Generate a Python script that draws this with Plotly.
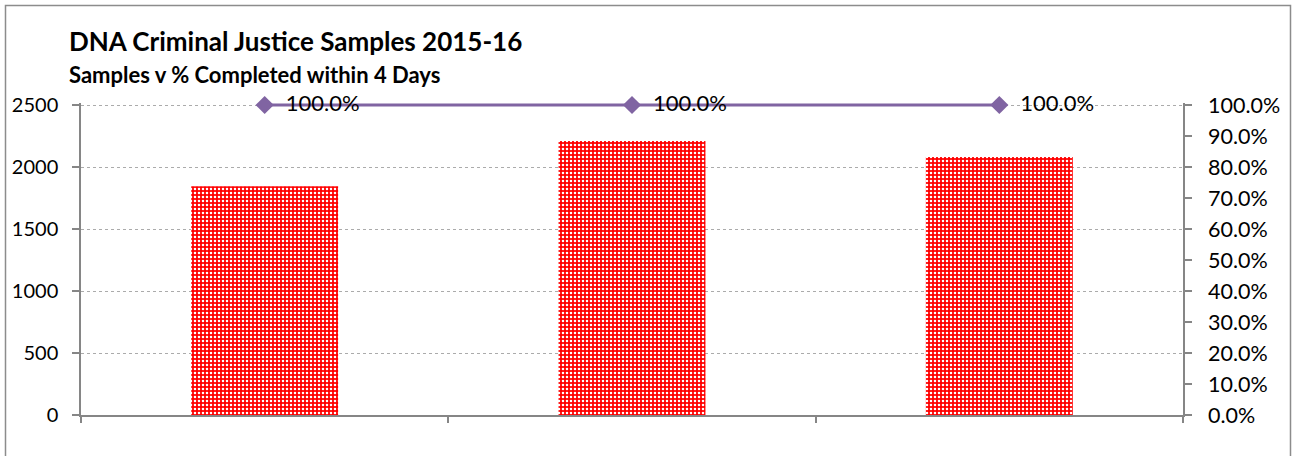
import plotly.graph_objects as go

categories = ["Period 1", "Period 2", "Period 3"]
samples = [1845, 2210, 2080]
pct_within_4_days = [1.0, 1.0, 1.0]
pct_labels = ["100.0%", "100.0%", "100.0%"]

title_text = "DNA Criminal Justice Samples 2015-16"
subtitle_text = "Samples v % Completed within 4 Days"

FONT = "Lato"
AXIS_COL = "#868686"

fig = go.Figure()
fig.add_trace(go.Bar(
    x=categories, y=samples, width=0.4,
    marker=dict(
        color="#ff0000",
        line=dict(width=0),
        pattern=dict(shape=".", fgcolor="#ffffff", bgcolor="#ff0000",
                     size=4, solidity=0.32, fillmode="replace"),
    ),
    showlegend=False,
))
fig.add_trace(go.Scatter(
    x=categories, y=pct_within_4_days, yaxis="y2",
    mode="lines+markers+text",
    line=dict(color="#8064A2", width=3),
    marker=dict(symbol="diamond", size=14, color="#8064A2"),
    text=["\u00a0\u00a0" + t for t in pct_labels], textposition="middle right",
    textfont=dict(family=FONT, size=22, color="#000000"),
    showlegend=False, cliponaxis=False,
))

W, H = 1297, 456
L, R, T, B = 81, 114, 103, 41
pw, ph = W - L - R, H - T - B
# top value (2500 / 100%) sits 2px below the plot-area top so the line is not clipped
scale = ph / (ph - 2)

def px_x(p):
    return (p - L) / pw

def px_y(p):
    return (H - B - p) / ph

fig.add_shape(type="rect", xref="paper", yref="paper",
              x0=px_x(5.5), x1=px_x(1290.5), y0=px_y(470), y1=px_y(5.5),
              line=dict(color="#8c8c8c", width=1.5), fillcolor="rgba(0,0,0,0)",
              layer="below")

fig.add_annotation(text=f"<b>{title_text}</b>", xref="paper", yref="paper",
                   x=px_x(67), y=px_y(41), xanchor="left", yanchor="middle",
                   showarrow=False, font=dict(family=FONT, size=26, color="#000000"))
fig.add_annotation(text=f"<b>{subtitle_text}</b>", xref="paper", yref="paper",
                   x=px_x(67), y=px_y(74), xanchor="left", yanchor="middle",
                   showarrow=False, font=dict(family=FONT, size=22, color="#000000"))

fig.update_layout(
    width=W, height=H,
    margin=dict(l=L, r=R, t=T, b=B, pad=0, autoexpand=False),
    paper_bgcolor="#ffffff", plot_bgcolor="#ffffff",
    font=dict(family=FONT, size=20, color="#000000"),
    bargap=0.6,
    xaxis=dict(
        type="category", showticklabels=False, tickson="boundaries",
        ticks="outside", ticklen=6, tickcolor=AXIS_COL, tickwidth=1.5,
        showline=True, linecolor=AXIS_COL, linewidth=1.5,
        showgrid=False, zeroline=False, automargin=False,
    ),
    yaxis=dict(
        range=[0, 2500 * scale], tick0=0, dtick=500, tickformat="d",
        ticks="outside", ticklen=7, tickcolor=AXIS_COL, tickwidth=1.5,
        showline=True, linecolor=AXIS_COL, linewidth=1.5,
        showgrid=True, gridcolor="#ababab", griddash="dot", gridwidth=1,
        zeroline=False, ticklabelstandoff=10, automargin=False,
        tickfont=dict(family=FONT, size=20, color="#000000"),
    ),
    yaxis2=dict(
        range=[0, 1 * scale], tick0=0, dtick=0.1, tickformat=".1%",
        overlaying="y", side="right",
        ticks="outside", ticklen=7, tickcolor=AXIS_COL, tickwidth=1.5,
        showline=True, linecolor=AXIS_COL, linewidth=1.5,
        showgrid=False, zeroline=False, ticklabelstandoff=12, automargin=False,
        tickfont=dict(family=FONT, size=21.5, color="#000000"),
    ),
)

fig.write_html("out.html", config={"displayModeBar": False},
               post_script="document.body.style.margin='0';")
